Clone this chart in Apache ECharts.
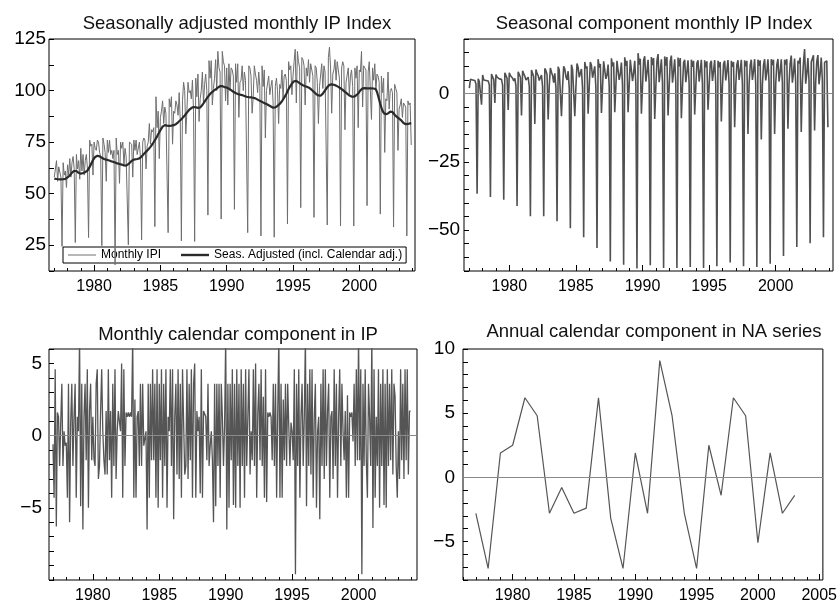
<!DOCTYPE html>
<html><head><meta charset="utf-8">
<script src="https://cdn.jsdelivr.net/npm/echarts@6/dist/echarts.min.js"></script>
<style>html,body{margin:0;padding:0;background:#fff}#c{width:840px;height:604px}</style>
</head><body><div id="c"></div>
<script>
const startYear = 1977;
// Seasonally adjusted monthly IPI (Jan 1977 - Dec 2003)
const seasAdjusted = [
57.3,57.2,57.1,57.0,57.0,57.0,56.9,56.9,57.0,57.0,57.2,57.5,
57.9,58.3,58.8,59.5,60.2,60.8,61.0,61.1,61.0,60.6,60.1,59.8,
59.7,59.8,60.0,60.2,60.4,60.6,61.2,62.0,63.0,64.0,65.2,66.3,
67.2,67.8,68.2,68.4,68.3,68.1,67.8,67.4,67.1,66.8,66.6,66.5,
66.4,66.2,66.0,65.8,65.6,65.5,65.3,65.1,64.9,64.7,64.5,64.4,
64.3,64.1,63.9,63.7,63.5,63.6,63.9,64.3,64.8,65.4,65.9,66.3,
66.5,66.6,66.7,66.8,66.9,67.1,67.5,68.0,68.6,69.2,69.8,70.3,
70.8,71.4,72.0,72.7,73.4,74.2,75.0,75.9,76.8,77.8,78.8,79.8,
80.8,81.7,82.5,83.0,83.2,83.1,83.0,82.9,82.9,82.9,83.0,83.1,
83.2,83.4,83.7,84.1,84.6,85.1,85.6,86.1,86.7,87.3,87.9,88.6,
89.3,90.0,90.6,91.1,91.5,91.8,92.0,92.0,91.9,91.7,91.6,91.6,
91.8,92.3,93.0,93.8,94.6,95.4,96.2,97.0,97.7,98.4,98.9,99.4,
99.8,100.2,100.6,101.0,101.4,101.8,102.1,102.2,102.1,101.9,101.7,101.6,
101.5,101.2,100.9,100.6,100.2,99.8,99.4,99.1,98.8,98.5,98.3,98.1,
98.0,97.9,97.8,97.6,97.4,97.2,97.0,96.9,96.8,96.8,96.7,96.6,
96.5,96.4,96.2,95.9,95.6,95.3,95.0,94.8,94.5,94.2,93.9,93.7,
93.5,93.2,92.9,92.6,92.3,92.0,91.7,91.6,91.8,92.2,92.6,93.0,
93.5,94.1,94.8,95.6,96.5,97.5,98.5,99.6,100.7,101.7,102.6,103.4,
104.0,104.5,104.8,104.7,104.4,104.0,103.6,103.2,102.9,102.6,102.3,102.1,
101.9,101.7,101.5,101.2,100.8,100.3,99.8,99.3,98.8,98.3,97.9,97.6,
97.4,97.5,97.9,98.5,99.3,100.1,100.8,101.6,102.3,102.8,103.0,103.0,
102.9,102.8,102.6,102.4,102.1,101.8,101.5,101.1,100.7,100.3,99.8,99.4,
99.0,98.5,98.0,97.6,97.3,97.1,97.0,97.0,97.2,97.6,98.1,98.6,
99.3,100.1,100.8,101.1,101.2,101.2,101.1,101.1,101.1,101.1,101.1,101.1,
101.0,101.0,101.0,100.6,99.3,97.5,95.5,93.5,91.7,90.2,89.2,88.7,
88.5,88.6,88.9,89.3,89.8,90.0,89.6,89.0,88.3,87.7,87.2,86.8,
86.4,86.0,85.5,84.9,84.3,83.9,83.7,83.7,83.8,84.0,84.1,84.2
];
// Monthly IPI (unadjusted)
const monthlyIPI = [
58,58,66,56,63,63,58,24.4,65,59,61,53,
64,59,67,58,65,68,62,26.3,69,62,66,57,
72,61,69,59,66,69,62,28.7,76,73,74,59,
75,72,71,76,75,70,68,24.8,77,74,70,56,
76,70,76,69,71,67,71,15.5,77,69,71,55,
75,72,75,64,72,68,68,25.2,75,75,74,58,
76,71,76,69,72,75,67,27.6,75,77,76,62,
73,75,84,74,81,80,82,34,97,82,90,67,
87,90,95,84,92,89,89,31.1,96,92,97,74,
90,89,95,93,88,99,85,27.1,95,104,100,79,
90,104,99,100,96,105,90,26.8,106,97,108,85,
96,100,109,94,103,108,100,39.6,114.5,106,114.5,93,
101,106,115,100,119,111,109,37.7,119,114,112,95,
111,93,113,100,111,110,107,42.4,113,104,113,87,
104,105,112,100,109,105,105,31.1,112,111,107,89,
97,112,108,105,99,109,102,29.5,112,102,110,77,
100,100,107,98,102,105,94,28.9,102,106,100,84,
103,101,110,96,107,108,105,35.3,114,110,112,98,
107,114,120,94,119,114,111,43.2,116,115,112,93,
111,107,115,104,113,110,107,38.5,112,111,104,84,
102,102,113,101,112,109,109,34.8,116,121,111,89,
108,110,115,105,114,110,106,34.3,111,114,112,81,
104,104,111,98,107,110,102,34.3,111,106,112,82,
110,109,119,92,112,111,110,44.2,109,114,114,86,
111,105,113,100,108,107,104,40.1,107,99,106,70,
96,95,109,91,100,101,99,33.8,103,101,99,71,
91,93,96,87,94,93,92,29.5,95,93,94,73.6
];
// Seasonal component
const seasonalComp = [
2.0,5.2,5.4,5.0,4.6,4.8,3.4,-36.7,5.4,4.4,4.0,-4.1,
6.8,5.0,5.2,4.8,4.4,4.6,3.2,-37.9,7.2,6.0,5.2,-3.4,
7.0,6.0,5.8,5.4,4.8,5.2,3.0,-38.9,7.6,7.0,5.6,-6.0,
7.6,6.6,6.0,5.6,4.6,5.6,2.8,-41.2,8.0,7.4,6.0,-8.0,
8.4,7.2,6.4,5.0,4.4,6.0,2.6,-44.9,8.6,8.0,6.2,-11.1,
8.8,7.4,6.6,4.8,4.2,6.8,2.4,-44.9,9.2,8.4,7.0,-9.5,
3.0,9.4,7.8,6.6,4.0,7.4,2.2,-46.8,9.8,8.6,8.0,-8.3,
2.6,10.0,9.0,6.2,5.0,8.2,2.0,-49.3,10.6,8.8,9.0,-8.3,
2.4,11.0,9.6,6.0,5.6,9.0,2.0,-52.6,11.6,9.2,10.0,-7.4,
2.4,11.6,10.4,5.8,6.2,10.0,2.2,-56.6,12.6,9.6,10.8,-7.1,
2.6,11.8,11.2,5.4,6.8,10.6,2.6,-61.5,12.9,10.0,11.4,-6.8,
2.8,12.0,11.8,5.0,7.2,11.4,3.0,-62.7,13.3,10.2,12.0,-6.8,
3.0,12.4,12.8,4.6,7.6,12.0,3.4,-64.1,14.8,10.6,12.8,-7.4,
2.8,12.2,13.7,4.4,7.8,12.4,3.6,-62.9,13.4,10.4,13.0,-9.3,
2.6,12.0,14.5,4.2,8.0,12.6,3.8,-63.9,13.6,10.2,13.4,-8.0,
2.4,11.8,13.9,4.0,8.0,12.6,3.8,-63.9,13.2,10.0,13.0,-9.0,
2.4,11.4,12.4,4.2,8.0,12.2,3.6,-63.5,12.4,9.8,12.0,-7.7,
2.6,11.2,12.2,4.4,8.2,12.4,3.4,-63.9,12.2,9.6,11.8,-5.9,
2.6,11.0,12.0,4.6,8.2,12.3,3.2,-63.3,12.0,9.6,11.6,-10.2,
2.8,10.8,12.0,4.8,8.4,12.3,3.2,-61.9,12.0,9.8,11.6,-12.3,
3.0,10.6,12.2,5.0,8.4,12.4,3.4,-63.3,12.2,10.0,12.0,-14.8,
3.2,10.4,12.4,5.0,8.2,12.6,3.6,-63.5,12.4,10.2,12.2,-16.8,
3.4,10.4,12.6,4.8,8.0,12.6,3.8,-62.3,12.6,10.4,12.4,-14.8,
3.6,10.6,12.7,4.4,7.8,12.6,4.0,-59.5,12.4,10.6,12.6,-12.9,
3.8,11.0,13.9,4.0,7.6,12.8,4.2,-56.2,12.0,11.0,13.2,-14.1,
4.0,11.4,16.3,3.6,7.4,13.0,4.6,-54.8,11.6,11.6,14.0,-13.5,
4.2,11.8,14.1,3.4,7.2,13.2,5.0,-52.6,11.4,12.0,12.0,-12.3
];
// Monthly calendar component
const calendarMonthly = [
-0.6,-4.3,4.6,-6.3,1.6,1.3,-2.1,0.9,3.6,-2.1,0.3,-0.7,
-0.5,-4.3,3.6,-6.0,0.9,3.6,-2.1,1.3,3.6,-4.3,1.3,0.3,
6.8,-4.9,3.6,-6.5,1.3,3.6,-1.7,4.6,-5.0,1.7,3.6,-1.7,
1.3,-1.6,-2.1,3.6,4.6,-3.0,-2.1,1.7,4.6,0.3,-1.7,-2.7,
1.7,-2.7,4.6,-1.7,1.7,-4.3,3.6,-2.1,4.6,-3.0,0.3,1.7,
1.6,0.3,5.0,-4.3,4.6,-2.1,1.6,1.3,1.6,1.3,1.6,1.3,
6.8,-4.3,2.5,-4.3,1.3,1.7,-2.1,3.6,-2.1,3.6,-0.7,-0.2,
0.3,-6.5,3.6,-4.3,3.6,-1.7,4.6,-1.7,3.6,-4.3,4.6,-5.0,
3.6,-1.7,4.6,-4.3,3.6,-2.1,4.6,-5.0,1.3,0.3,4.6,-2.1,
4.6,-5.8,1.3,3.6,-2.7,4.6,-3.0,3.6,-4.3,4.6,0.9,-2.7,
-2.1,4.6,-3.0,3.6,-1.7,4.6,-4.3,3.6,5.0,-4.3,1.7,0.3,
1.3,-4.0,4.6,-4.3,1.7,1.6,1.3,-1.7,3.6,-2.1,-0.7,0.3,
-1.7,-6.0,3.6,-4.9,3.6,-2.1,3.6,-4.3,3.6,1.3,-2.1,0.7,
6.8,-6.5,3.6,-5.0,3.6,-1.7,4.6,-4.8,3.6,-5.0,4.6,-2.1,
3.6,-5.0,4.6,-2.1,3.6,-4.3,4.6,-2.1,1.3,4.6,-2.7,0.3,
-1.7,4.6,-2.1,5.0,-4.3,1.6,3.6,-1.7,4.6,-2.1,2.7,-4.3,
4.6,-4.6,1.6,1.3,1.6,1.3,-1.7,3.6,-2.1,3.6,-4.3,1.6,
6.8,-4.3,3.6,-4.3,2.5,-1.7,3.6,-2.1,3.6,0.6,-2.1,0.9,
0.3,-1.7,4.6,-9.6,3.6,-2.1,4.6,-4.3,1.3,3.6,-2.1,1.3,
6.8,-4.9,3.6,-2.1,4.6,-2.7,4.6,-4.3,1.3,3.6,-5.0,0.3,
1.3,-5.8,3.6,-2.1,4.6,-3.0,4.6,-2.1,1.7,3.6,-4.3,1.3,
1.7,-3.0,4.6,-2.1,3.6,-4.3,1.3,4.6,-2.1,3.6,0.3,-1.7,
1.7,-4.3,2.8,-4.3,1.6,1.3,1.6,-0.4,3.6,-2.1,4.6,-1.7,
6.8,-1.7,4.6,-9.6,3.6,-2.1,4.6,-1.7,-4.3,3.6,1.3,-2.1,
6.8,-6.4,4.6,-4.3,1.3,-2.1,4.6,-5.0,3.6,-2.1,4.6,-4.8,
3.6,-5.0,4.6,-2.1,3.6,-1.7,4.6,-2.7,3.6,2.7,-2.1,-4.3,
0.3,-3.0,4.6,-1.7,3.6,-3.0,4.6,-1.7,4.6,-2.7,1.7,1.7
];
// Annual calendar component in NA series
const annualYears = [1977,1978,1979,1980,1981,1982,1983,1984,1985,1986,1987,1988,1989,1990,1991,1992,1993,1994,1995,1996,1997,1998,1999,2000,2001,2002,2003];
const annualCalendar = [-2.8,-7.1,1.9,2.5,6.2,4.8,-2.8,-0.8,-2.8,-2.4,6.2,-3.2,-7.1,1.9,-2.8,9.1,4.8,-2.8,-7.1,2.5,-1.4,6.2,4.8,-5.1,1.9,-2.8,-1.4];

const majorYears = [1980,1985,1990,1995,2000];
const majorYears4 = [1980,1985,1990,1995,2000,2005];
const minorYears = [1977,1978,1979,1980,1981,1982,1983,1984,1985,1986,1987,1988,1989,1990,1991,1992,1993,1994,1995,1996,1997,1998,1999,2000,2001,2002,2003,2004];
const minorYears4 = [1976].concat(minorYears, [2005]);
const titles = ['Seasonally adjusted monthly IP Index','Seasonal component monthly IP Index','Monthly calendar component in IP','Annual calendar component in NA series'];
const legendNames = ['Monthly IPI','Seas. Adjusted (incl. Calendar adj.)'];

const F = '"Liberation Sans", Arial, Helvetica, sans-serif';
function monthly(arr){ return arr.map((v,i)=>[startYear + i/12, v]); }
function fmt(v){ return v < 0 ? '\u2212' + Math.abs(v) : String(v); }

function xAxes(gi, min, max, majors, minors){
  return [
    {type:'value', gridIndex:gi, min:min, max:max, position:'bottom',
     axisLine:{show:false, onZero:false}, splitLine:{show:false},
     axisTick:{show:true, inside:true, length:6, customValues:majors, lineStyle:{color:'#000', width:1}},
     axisLabel:{show:true, customValues:majors, margin:8, fontSize:16, color:'#000', fontFamily:F, formatter:v=>String(v)}},
    {type:'value', gridIndex:gi, min:min, max:max, position:'bottom',
     axisLine:{show:false, onZero:false}, splitLine:{show:false}, axisLabel:{show:false},
     axisTick:{show:true, inside:true, length:3, customValues:minors, lineStyle:{color:'#000', width:1}}}
  ];
}
function yAxis(gi, min, max, interval, labels, margin, align){
  return {type:'value', gridIndex:gi, min:min, max:max, interval:interval,
    axisLine:{show:false, onZero:false}, splitLine:{show:false},
    axisTick:{show:true, inside:true, length:5, lineStyle:{color:'#000', width:1}},
    axisLabel:{show:true, margin:margin, align:align, fontSize:19, color:'#000', fontFamily:F,
      formatter:v=> (labels.indexOf(v) >= 0 ? fmt(v) : '')}};
}
const zeroLine = {silent:true, symbol:'none', animation:false, label:{show:false},
  lineStyle:{color:'#8a8a8a', width:1, type:'solid'}, data:[{yAxis:0}]};

const gridBase = {show:true, borderColor:'#000', borderWidth:1, backgroundColor:'transparent', containLabel:false};
const option = {
  animation:false,
  backgroundColor:'#fff',
  textStyle:{fontFamily:F},
  title: titles.map((t,i)=>({text:t, left:[232,649,233,649][i], top:[9,9,320,317][i], textAlign:'center',
    textStyle:{fontSize:18.5, fontWeight:'normal', color:'#111', fontFamily:F}})),
  legend:{left:63, top:247, orient:'horizontal', z:1,
    data:[{name:legendNames[0], icon:'path://M0 0H28V1H0Z'}, {name:legendNames[1], icon:'path://M0 0H28V2.4H0Z'}],
    padding:[2,4,2,5], itemGap:20, itemWidth:28, itemHeight:12,
    borderColor:'#000', borderWidth:1, backgroundColor:'#fff',
    textStyle:{fontSize:12, color:'#000', fontFamily:F}},
  grid:[
    Object.assign({left:49, top:39, width:366, height:232}, gridBase),
    Object.assign({left:464, top:39, width:369, height:232}, gridBase),
    Object.assign({left:49, top:349, width:368, height:233}, gridBase),
    Object.assign({left:463, top:349, width:372, height:233}, gridBase)
  ],
  xAxis: [].concat(
    xAxes(0, 1976.6, 2004.2, majorYears, minorYears),
    xAxes(1, 1976.6, 2004.3, majorYears, minorYears),
    xAxes(2, 1976.7, 2004.4, majorYears, minorYears),
    xAxes(3, 1975.95, 2005.3, majorYears4, minorYears4)
  ),
  yAxis:[
    yAxis(0, 12.5, 125, 12.5, [25,50,75,100,125], 3, 'right'),
    yAxis(1, -65, 20, 5, [0,-25,-50], 20, 'center'),
    yAxis(2, -10, 6, 1, [5,0,-5], 7, 'right'),
    yAxis(3, -8, 10, 1, [10,5,0,-5], 8, 'right')
  ],
  series:[
    {name:legendNames[0], type:'line', xAxisIndex:0, yAxisIndex:0, data:monthly(monthlyIPI),
     symbol:'none', z:3, lineStyle:{color:'#6e6e6e', width:1}, itemStyle:{color:'#6e6e6e'}},
    {name:legendNames[1], type:'line', xAxisIndex:0, yAxisIndex:0, data:monthly(seasAdjusted),
     symbol:'none', z:4, lineStyle:{color:'#2a2a2a', width:2.2}, itemStyle:{color:'#2a2a2a'}},
    {name:'Seasonal', type:'line', xAxisIndex:2, yAxisIndex:1, data:monthly(seasonalComp),
     symbol:'none', z:3, lineStyle:{color:'#505050', width:1.6}, markLine:zeroLine},
    {name:'Calendar', type:'line', xAxisIndex:4, yAxisIndex:2, data:monthly(calendarMonthly),
     symbol:'none', z:3, lineStyle:{color:'#555', width:1.3}, markLine:zeroLine},
    {name:'Annual', type:'line', xAxisIndex:6, yAxisIndex:3, data:annualYears.map((y,i)=>[y, annualCalendar[i]]),
     symbol:'none', z:3, lineStyle:{color:'#555', width:1.2}, markLine:zeroLine}
  ]
};
const chart = echarts.init(document.getElementById('c'), null, {renderer:'canvas'});
chart.setOption(option);
</script></body></html>
